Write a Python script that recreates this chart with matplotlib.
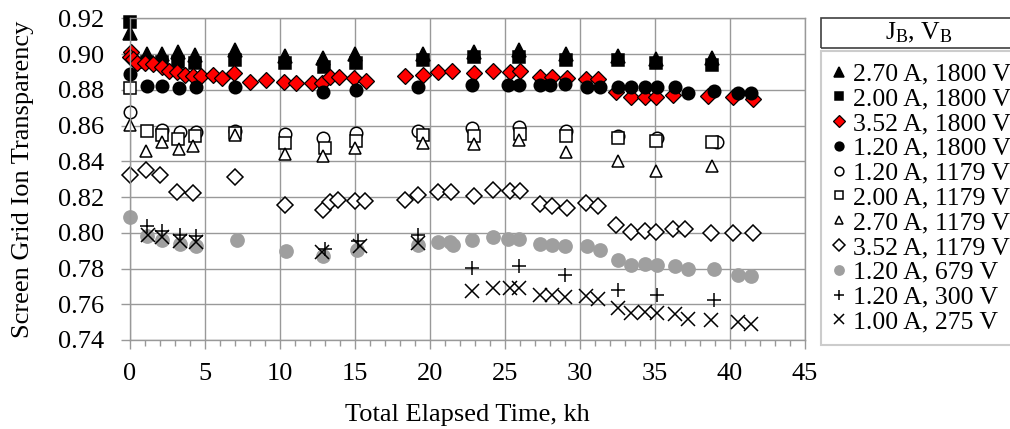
import matplotlib
matplotlib.use("Agg")
import matplotlib.pyplot as plt
from matplotlib.patches import Rectangle

# ---------------- data ----------------
labels = ["2.70 A, 1800 V", "2.00 A, 1800 V", "3.52 A, 1800 V", "1.20 A, 1800 V",
          "1.20 A, 1179 V", "2.00 A, 1179 V", "2.70 A, 1179 V", "3.52 A, 1179 V",
          "1.20 A, 679 V", "1.20 A, 300 V", "1.00 A, 275 V"]

x_tri_1800 = [0, 1.1, 2.1, 3.2, 4.3, 7.0, 10.3, 12.85, 15.0, 19.5, 22.9, 25.95, 29.05, 32.5, 35.05, 38.8]
y_tri_1800 = [0.912, 0.900, 0.900, 0.901, 0.8995, 0.902, 0.899, 0.898, 0.900, 0.900, 0.901, 0.902, 0.900, 0.899, 0.897, 0.898]

x_sq_1800 = [0, 1.1, 2.1, 3.2, 4.3, 7.0, 10.3, 12.9, 15.05, 19.5, 22.9, 25.95, 29.05, 32.5, 35.05, 38.8]
y_sq_1800 = [0.918, 0.8955, 0.8955, 0.8955, 0.895, 0.8965, 0.895, 0.8928, 0.895, 0.8965, 0.8985, 0.8985, 0.8967, 0.8967, 0.8952, 0.894]

x_dia_1800 = [0.05, 0.0, 0.2, 0.45, 1.0, 1.55, 2.1, 2.6, 3.15, 3.65, 4.2, 4.75, 5.5, 6.1, 6.95, 8.0,
              9.05, 10.25, 11.05, 12.1, 12.8, 13.3, 13.9, 14.95, 15.7, 18.3, 19.5, 20.55, 21.45,
              22.9, 24.2, 25.3, 26.0, 27.3, 28.1, 29.1, 30.4, 31.2, 32.4, 33.4, 34.3, 35.05, 36.2,
              38.55, 40.2, 41.5]
y_dia_1800 = [0.901, 0.8985, 0.897, 0.895, 0.895, 0.8945, 0.8925, 0.8907, 0.890, 0.8883, 0.8878,
              0.8875, 0.8883, 0.8865, 0.8896, 0.8846, 0.8855, 0.8846, 0.884, 0.8837, 0.8837, 0.887,
              0.887, 0.8865, 0.8851, 0.8878, 0.8883, 0.890, 0.8907, 0.8893, 0.8907, 0.890, 0.8903,
              0.8874, 0.887, 0.8865, 0.8861, 0.886, 0.879, 0.8759, 0.876, 0.8759, 0.8772, 0.8766,
              0.8759, 0.8748]

x_cir_1800 = [0, 1.15, 2.1, 3.27, 4.38, 7.0, 12.85, 15.07, 19.2, 22.8, 25.2, 25.9, 27.3, 28.0, 29.0,
              30.45, 31.3, 32.5, 33.4, 34.3, 35.1, 36.3, 37.2, 38.9, 40.55, 41.4]
y_cir_1800 = [0.889, 0.8822, 0.8821, 0.8809, 0.8815, 0.8815, 0.879, 0.880, 0.8815, 0.8827, 0.8827,
              0.8827, 0.8827, 0.8827, 0.883, 0.8815, 0.8815, 0.8815, 0.8815, 0.8815, 0.8815, 0.8815,
              0.8781, 0.8794, 0.8784, 0.8781]

x_ocir_1179 = [0, 2.1, 3.3, 4.4, 7.0, 10.3, 12.85, 15.07, 19.2, 22.8, 25.95, 29.07, 32.5, 35.1, 39.1]
y_ocir_1179 = [0.8673, 0.8576, 0.8565, 0.8565, 0.857, 0.8555, 0.8531, 0.856, 0.8572, 0.8585, 0.859,
               0.8572, 0.854, 0.853, 0.851]

x_osq_1179 = [0, 1.1, 2.1, 3.2, 4.33, 7.0, 10.3, 13.0, 15.05, 19.55, 22.9, 26.0, 29.07, 32.5, 35.07, 38.8]
y_osq_1179 = [0.8809, 0.8567, 0.8548, 0.8524, 0.8539, 0.8557, 0.8505, 0.8474, 0.8516, 0.8548, 0.8539,
              0.8552, 0.8539, 0.853, 0.8516, 0.8507]

x_otri_1179 = [0, 1.07, 2.1, 3.27, 4.2, 7.0, 10.3, 12.85, 15.0, 19.5, 22.9, 25.95, 29.07, 32.5, 35.07, 38.8]
y_otri_1179 = [0.8604, 0.8455, 0.851, 0.8468, 0.8487, 0.8548, 0.8442, 0.8427, 0.8474, 0.8502, 0.8498,
               0.852, 0.8451, 0.8403, 0.8343, 0.8371]

x_odia_1179 = [0, 1.07, 2.0, 3.15, 4.18, 7.0, 10.3, 12.85, 13.3, 13.85, 15.0, 15.67, 18.3, 19.2, 20.55,
               21.4, 22.9, 24.2, 25.3, 26.0, 27.3, 28.1, 29.1, 30.4, 31.2, 32.4, 33.4, 34.3, 35.05, 36.2,
               37.0, 38.7, 40.2, 41.5]
y_odia_1179 = [0.8325, 0.8353, 0.8325, 0.8226, 0.8222, 0.8312, 0.8157, 0.8125, 0.817, 0.8185, 0.818,
               0.818, 0.8185, 0.8209, 0.8226, 0.8226, 0.8203, 0.8241, 0.8231, 0.8231, 0.8163, 0.8151,
               0.8139, 0.8167, 0.8151, 0.8041, 0.8002, 0.8012, 0.8002, 0.8021, 0.8021, 0.7999, 0.7999,
               0.7999]

x_grey_679 = [0, 1.15, 2.1, 3.33, 4.4, 7.1, 10.4, 12.85, 15.1, 19.2, 20.55, 21.35, 21.5, 22.8, 24.2,
              25.2, 25.9, 27.3, 28.1, 29.0, 30.45, 31.3, 32.5, 33.4, 34.3, 35.1, 36.3, 37.2, 38.9,
              40.55, 41.4]
y_grey_679 = [0.8088, 0.7984, 0.7961, 0.7939, 0.7924, 0.7961, 0.7896, 0.7868, 0.7906, 0.7934, 0.7946,
              0.795, 0.7932, 0.7958, 0.7977, 0.7965, 0.7965, 0.7939, 0.7934, 0.7924, 0.7928, 0.7906,
              0.7846, 0.7822, 0.7827, 0.7818, 0.7812, 0.78, 0.78, 0.7766, 0.776]

x_plus_300 = [1.15, 2.1, 3.33, 4.4, 13.0, 15.2, 19.2, 22.8, 25.9, 29.0, 32.5, 35.1, 38.9]
y_plus_300 = [0.8036, 0.8008, 0.7989, 0.798, 0.791, 0.7952, 0.7989, 0.7803, 0.7816, 0.7766, 0.7682,
              0.7649, 0.7626]

x_x_275 = [1.17, 2.1, 3.33, 4.4, 12.8, 15.3, 19.2, 22.8, 24.2, 25.3, 25.9, 27.3, 28.1, 29.0, 30.4,
           31.2, 32.5, 33.4, 34.3, 35.1, 36.3, 37.2, 38.7, 40.55, 41.4]
y_x_275 = [0.7989, 0.7977, 0.7952, 0.7946, 0.789, 0.7924, 0.7943, 0.7673, 0.7692, 0.7692, 0.7692,
           0.7649, 0.7649, 0.7641, 0.7645, 0.7632, 0.758, 0.7552, 0.7555, 0.7552, 0.7543, 0.7518,
           0.7511, 0.75, 0.7487]

x_ticks = [0, 5, 10, 15, 20, 25, 30, 35, 40, 45]
y_ticks = [0.74, 0.76, 0.78, 0.80, 0.82, 0.84, 0.86, 0.88, 0.90, 0.92]

# ---------------- styles ----------------
plt.rcParams['font.family'] = ['Liberation Serif', 'DejaVu Serif']
plt.rcParams['mathtext.fontset'] = 'custom'
plt.rcParams['mathtext.rm'] = 'Liberation Serif'
plt.rcParams['mathtext.it'] = 'Liberation Serif'

GRID = '#999999'
W, H = 1010, 429
fig = plt.figure(figsize=(W / 100, H / 100), dpi=100)
ax = fig.add_axes([130 / W, 1 - 340 / H, 675 / W, (340 - 18.3) / H])

ew = 1.1
series = [
    (x_tri_1800, y_tri_1800, dict(marker='^', ms=9.5, mfc='black', mec='black', mew=ew)),
    (x_sq_1800, y_sq_1800, dict(marker='s', ms=9, mfc='black', mec='black', mew=ew)),
    (x_dia_1800, y_dia_1800, dict(marker='D', ms=8.4, mfc='#ff0000', mec='black', mew=0.9)),
    (x_cir_1800, y_cir_1800, dict(marker='o', ms=9, mfc='black', mec='black', mew=ew)),
    (x_ocir_1179, y_ocir_1179, dict(marker='o', ms=9, mfc='white', mec='black', mew=ew)),
    (x_osq_1179, y_osq_1179, dict(marker='s', ms=8.5, mfc='white', mec='black', mew=ew)),
    (x_otri_1179, y_otri_1179, dict(marker='^', ms=9, mfc='white', mec='black', mew=ew)),
    (x_odia_1179, y_odia_1179, dict(marker='D', ms=8.2, mfc='white', mec='black', mew=ew)),
    (x_grey_679, y_grey_679, dict(marker='o', ms=9.5, mfc='#9f9f9f', mec='#9f9f9f', mew=ew)),
    (x_plus_300, y_plus_300, dict(marker='+', ms=9.5, mec='black', mew=ew)),
    (x_x_275, y_x_275, dict(marker='x', ms=9.5, mec='black', mew=ew)),
]
handles = []
for (xs, ys, st), lab in zip(series, labels):
    h, = ax.plot(xs, ys, linestyle='none', label=lab, clip_on=False, **st)
    handles.append(h)

ax.set_xlim(0, 45)
ax.set_ylim(0.74, 0.92)
ax.set_xticks(x_ticks)
ax.set_xticks(range(0, 46), minor=True)
ax.set_yticks(y_ticks)
ax.set_yticklabels([f"{v:.2f}" for v in y_ticks])
ax.grid(True, which='major', color=GRID, lw=1.0)
ax.set_axisbelow(True)
for s in ax.spines.values():
    s.set_color(GRID)
    s.set_linewidth(1.0)
ax.tick_params(axis='both', which='major', labelsize=19, color=GRID, width=1.0, length=6.5,
               direction='out')
ax.tick_params(axis='x', which='minor', color=GRID, width=1.0, length=4.3, direction='out')
ax.tick_params(axis='x', which='major', pad=10)
ax.tick_params(axis='y', which='major', pad=12)
ax.tick_params(top=False, right=False)
ax.set_xlabel("Total Elapsed Time, kh", fontsize=19, labelpad=14)
ax.set_ylabel("Screen Grid Ion Transparency", fontsize=19, labelpad=17)

# legend
leg = fig.legend(handles=handles, labels=labels, loc='upper left',
                 bbox_to_anchor=(821 / W, 1 - 51 / H), fontsize=18.5,
                 markerscale=0.7, handlelength=0.5, handletextpad=0.3,
                 labelspacing=0.07, borderpad=0.45, borderaxespad=0,
                 frameon=True, fancybox=False, edgecolor='#c0c0c0')
leg.get_frame().set_linewidth(1.5)

# legend title box
fig.add_artist(Rectangle((821 / W, 1 - 48 / H), 200 / W, 30 / H, transform=fig.transFigure,
                         fill=False, edgecolor='#404040', lw=1.2))
fig.text(919 / W, 1 - 33 / H, r"J$_{\mathrm{B}}$, V$_{\mathrm{B}}$", fontsize=18.5,
         ha='center', va='center')

fig.savefig("out.png", dpi=100)
